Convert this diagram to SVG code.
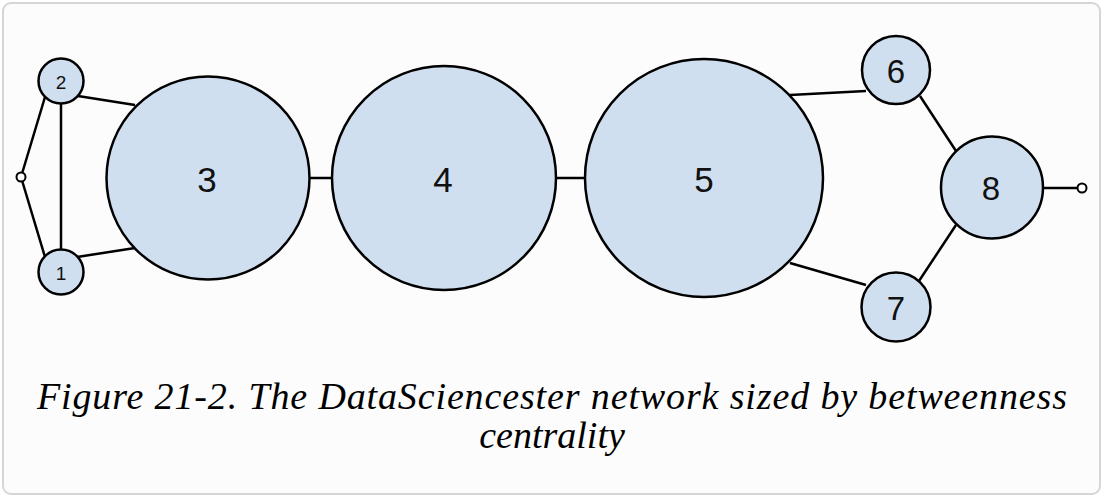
<svg xmlns="http://www.w3.org/2000/svg" width="1104" height="498" viewBox="0 0 1104 498">
<style>
.node{fill:#cfdfef;stroke:#000;stroke-width:2.5}
.dot{fill:#fff;stroke:#000;stroke-width:2}
.edge{stroke:#000;stroke-width:2.5;fill:none}
.lbl{font-family:"Liberation Sans",Arial,sans-serif;fill:#111;text-anchor:middle;dominant-baseline:central}
.cap{font-family:"Liberation Serif","Times New Roman",serif;font-style:italic;font-size:38px;fill:#000;text-anchor:middle}
</style>
<rect x="0" y="0" width="1104" height="498" fill="#fff"/>
<rect x="3" y="3" width="1097" height="491" rx="8" fill="#fcfcfc" stroke="#d6d6d6" stroke-width="2"/>
<g id="connectors">
<line class="edge" x1="21" y1="177" x2="45" y2="97"/>
<line class="edge" x1="21" y1="177" x2="45" y2="257"/>
<line class="edge" x1="61" y1="103" x2="61" y2="250"/>
<line class="edge" x1="78" y1="96" x2="135" y2="105"/>
<line class="edge" x1="77" y1="257" x2="135" y2="248"/>
<line class="edge" x1="309" y1="178" x2="333" y2="178"/>
<line class="edge" x1="555" y1="178" x2="586" y2="178"/>
<line class="edge" x1="790" y1="95" x2="866" y2="91"/>
<line class="edge" x1="790" y1="263" x2="866" y2="285"/>
<line class="edge" x1="920" y1="96" x2="956" y2="151"/>
<line class="edge" x1="919" y1="281" x2="956" y2="225"/>
<line class="edge" x1="1043" y1="188" x2="1077" y2="188"/>
</g>
<g id="dot-left"><circle class="dot" cx="21" cy="177" r="4.5"/></g>
<g id="dot-right"><circle class="dot" cx="1082" cy="188" r="4.5"/></g>
<g id="node-2"><circle class="node" cx="61" cy="81" r="22.5"/><text class="lbl" x="61" y="82" font-size="19">2</text></g>
<g id="node-1"><circle class="node" cx="61" cy="272" r="22.5"/><text class="lbl" x="61" y="273" font-size="19">1</text></g>
<g id="node-3"><circle class="node" cx="208" cy="178" r="101.5"/><text class="lbl" x="207" y="179" font-size="35">3</text></g>
<g id="node-4"><circle class="node" cx="444" cy="178" r="112"/><text class="lbl" x="443" y="179" font-size="35">4</text></g>
<g id="node-5"><circle class="node" cx="704" cy="178" r="119"/><text class="lbl" x="704" y="179" font-size="35">5</text></g>
<g id="node-6"><circle class="node" cx="896" cy="70" r="34"/><text class="lbl" x="896" y="71" font-size="33">6</text></g>
<g id="node-7"><circle class="node" cx="896" cy="307" r="34.5"/><text class="lbl" x="896" y="308" font-size="33">7</text></g>
<g id="node-8"><circle class="node" cx="992" cy="187.5" r="51"/><text class="lbl" x="991" y="188" font-size="33">8</text></g>
<text class="cap" x="552" y="409" textLength="1030" lengthAdjust="spacing">Figure 21-2. The DataSciencester network sized by betweenness</text>
<text class="cap" x="552" y="448">centrality</text>
</svg>
